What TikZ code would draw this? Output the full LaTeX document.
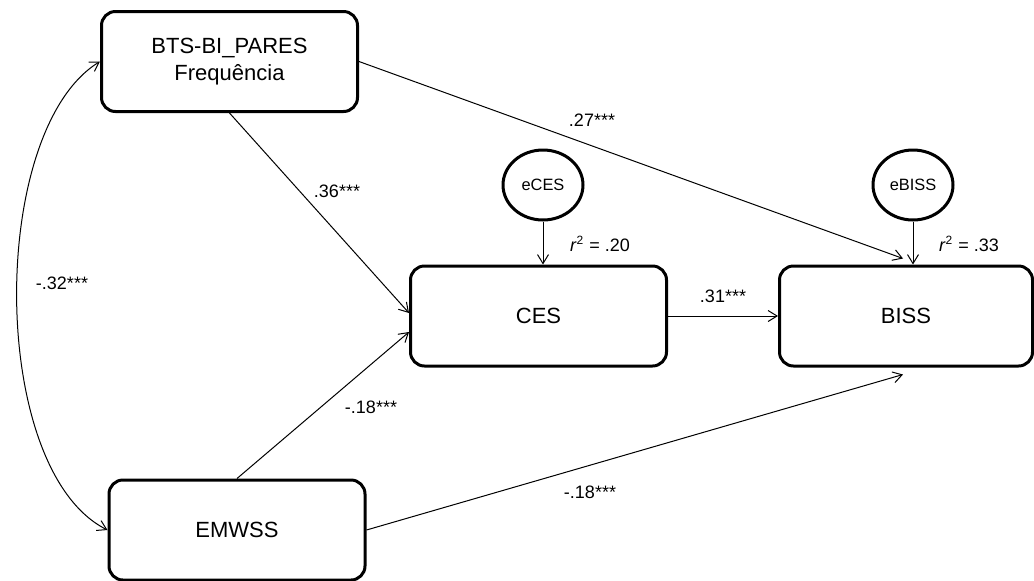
\documentclass[tikz,border=0pt]{standalone}
\usepackage{fontspec}
\setmainfont{Liberation Sans}
\usetikzlibrary{arrows.meta,shapes.geometric}

\begin{document}
\begin{tikzpicture}[x=0.5pt,y=-0.5pt,
    >={Straight Barb[length=4.5pt,width=5.5pt]},
    box/.style={draw,line width=1.5pt,rounded corners=7pt,minimum width=128pt,minimum height=50pt,align=center,font=\fontsize{11}{13.5}\selectfont},
    err/.style={draw,ellipse,line width=1.5pt,minimum width=40pt,minimum height=35pt,inner sep=0pt,font=\fontsize{8.2}{10}\selectfont},
    arr/.style={->,line width=0.5pt},
    lbl/.style={font=\fontsize{9}{10.8}\selectfont}]
    \useasboundingbox (0,0) rectangle (1034,580);
    % variables
    \node[box] (bts) at (229.5,61.5) {BTS-BI\_PARES\\Frequência};
    \node[box] (ces) at (538.5,316) {CES};
    \node[box,minimum width=126.5pt] (biss) at (906,316) {BISS};
    \node[box] (emwss) at (237,530) {EMWSS};
    % residuals
    \node[err] (eces) at (543,185) {eCES};
    \node[err] (ebiss) at (913,185) {eBISS};
    % paths
    \draw[arr] (eces.south) -- (eces.south |- ces.north);
    \draw[arr] (ebiss.south) -- (ebiss.south |- biss.north);
    \draw[arr] (ces.east) -- (biss.west);
    \draw[arr] (bts.east) -- ([shift={(-3,-6)}]biss.north);
    \draw[arr] (bts.south) -- ([shift={(0,-3)}]ces.west);
    \draw[arr] (emwss.north) -- ([shift={(0,16)}]ces.west);
    \draw[arr] (emwss.east) -- ([shift={(-3,7)}]biss.south);
    \draw[<->,line width=0.5pt] (bts.west) .. controls (-12,130) and (-12,470) .. (emwss.west);
    % coefficients
    \node[lbl] (l36) at (337,191) {.36***};
    \node[lbl] (l27) at (592,120) {.27***};
    \node[lbl] (l31) at (723,296) {.31***};
    \node[lbl] (l18a) at (371,407) {-.18***};
    \node[lbl] (l18b) at (590,492) {-.18***};
    \node[lbl] (l32) at (62,283) {-.32***};
    \node[lbl] (r2ces) at (600,244) {\textit{r}\textsuperscript{2} = .20};
    \node[lbl] (r2biss) at (969,244) {\textit{r}\textsuperscript{2} = .33};
\end{tikzpicture}
\end{document}
